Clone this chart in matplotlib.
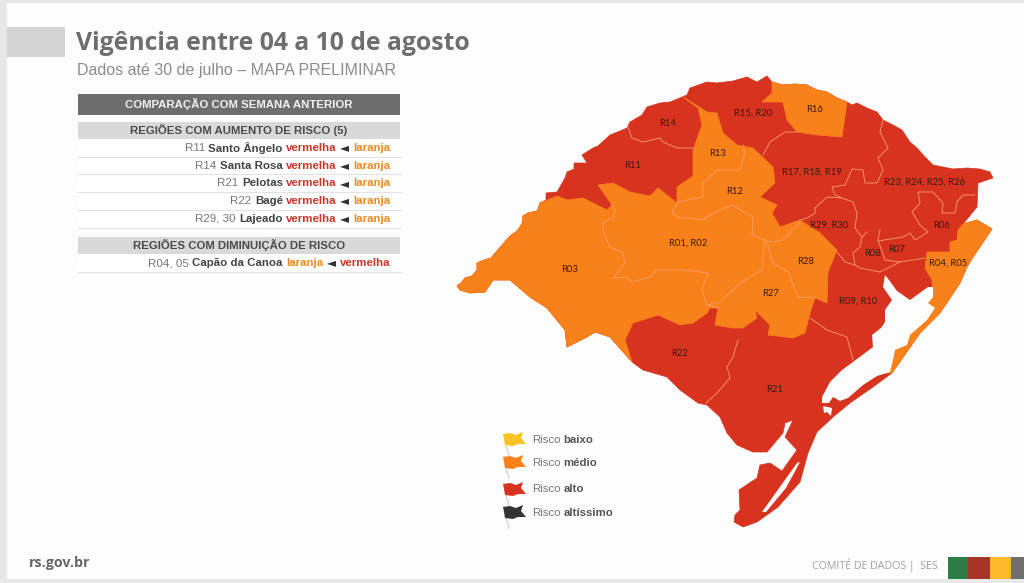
import matplotlib
matplotlib.use("Agg")
import matplotlib.pyplot as plt
from matplotlib.patches import Polygon, Rectangle

RED = "#d8331f"
ORANGE = "#f9811a"
BORDER = "#f6a070"

# outlines, in image pixels
west_coast = [(457, 286), (461, 283), (465, 278), (472, 276), (477, 270), (477, 263), (484, 260), (491, 258),
              (497, 251), (503, 244), (510, 236), (517, 231), (522, 224), (523, 216), (528, 213), (537, 211),
              (538, 209), (540, 203)]
north_coast = [(546, 200), (546, 193), (557, 192), (565, 178), (567, 172), (574, 169), (574, 163), (587, 163),
               (582, 155), (593, 148), (598, 146), (610, 135), (620, 131), (627, 128), (630, 122), (642, 115),
               (647, 107), (660, 103), (670, 102), (682, 97), (687, 95), (690, 88), (707, 82), (717, 83),
               (733, 81), (740, 79), (747, 77), (757, 82), (767, 76), (772, 82), (783, 85), (795, 84), (807, 85),
               (817, 90), (827, 92), (837, 98), (847, 102), (852, 105), (857, 103), (867, 108), (877, 112),
               (883, 120), (893, 125), (902, 130), (910, 142), (917, 148), (925, 157), (933, 165), (943, 167),
               (953, 169), (967, 168), (980, 169), (990, 172), (993, 178), (978, 183), (977, 207), (968, 218),
               (963, 224), (977, 220), (992, 229), (973, 257), (967, 267), (960, 283), (940, 313), (920, 333)]
south_coast = [(892, 373), (873, 387), (850, 403), (833, 417), (817, 432), (808, 453), (800, 482), (778, 507),
               (757, 522), (743, 527), (734, 522), (735, 515), (740, 510), (739, 490), (757, 478), (760, 465),
               (770, 463), (782, 471), (797, 450), (785, 437), (793, 420), (785, 423), (783, 433), (767, 452),
               (753, 452), (737, 445), (727, 433), (720, 417), (707, 405), (698, 403), (680, 390), (667, 377),
               (643, 370)]
sw_coast = [(632, 362), (610, 337), (595, 332), (587, 337), (567, 347), (565, 330), (547, 308), (530, 297),
            (510, 280), (493, 280), (485, 292), (470, 293), (460, 290)]
orange_inland = [(557, 196), (567, 200), (583, 198), (607, 210), (612, 205), (598, 185), (613, 183), (630, 192),
                 (650, 196), (658, 188), (677, 203), (677, 187), (693, 176), (693, 150), (702, 125), (698, 108),
                 (683, 97), (707, 112), (717, 113), (723, 133), (737, 145), (753, 148), (773, 167), (775, 183),
                 (760, 197), (777, 205), (772, 213), (780, 227), (800, 220), (820, 233), (837, 250), (828, 272),
                 (827, 303), (815, 298), (810, 313), (805, 333), (793, 338), (768, 335), (770, 325), (755, 310),
                 (757, 318), (743, 328), (732, 328), (715, 325), (718, 308), (710, 308), (707, 313), (693, 323),
                 (680, 325), (658, 315), (633, 323), (625, 340)]
orange_r16 = [(772, 82), (783, 85), (795, 84), (807, 85), (817, 90), (827, 92), (837, 98), (847, 102), (842, 137),
              (817, 135), (797, 132), (787, 120), (783, 102), (762, 102), (772, 93)]
orange_coast = [(963, 224), (958, 230), (957, 240), (950, 242), (950, 252), (927, 252), (925, 268), (932, 280),
                (933, 297), (925, 300), (890, 345), (885, 373), (892, 373), (920, 333), (940, 313), (960, 283),
                (967, 267), (973, 257), (992, 229), (977, 220)]
lagoa_patos = [(885, 275), (889, 280), (897, 291), (910, 300), (928, 287), (933, 287), (933, 297), (928, 303),
               (935, 308), (927, 320), (910, 335), (907, 345), (895, 350), (893, 360), (890, 372), (877, 376),
               (863, 385), (848, 398), (840, 401), (833, 397), (829, 403), (822, 403), (822, 397), (830, 382),
               (842, 370), (853, 362), (873, 347), (872, 335), (881, 328), (885, 322), (885, 310), (892, 300),
               (883, 287)]
lagoa_sliver = [(800, 462), (797, 463), (782, 484), (762, 512), (766, 512), (786, 488)]
estuary = [(823, 406), (832, 408), (831, 416), (827, 412), (824, 413)]

borders = [
    [(612, 205), (615, 210), (613, 218), (603, 222), (603, 230), (610, 247), (623, 253), (625, 263), (613, 278),
     (627, 277), (632, 282), (650, 277), (657, 270), (683, 270), (708, 273), (702, 290), (707, 305), (718, 308)],
    [(707, 305), (720, 302), (740, 283), (762, 270), (765, 240), (752, 235), (753, 217), (732, 205), (713, 213),
     (703, 220), (690, 218), (680, 218), (672, 213), (677, 203)],
    [(677, 202), (703, 197), (703, 183), (717, 170), (740, 170), (745, 153), (743, 145)],
    [(765, 241), (773, 242), (783, 240), (800, 222)],
    [(767, 243), (773, 263), (788, 272), (798, 297), (815, 298)],
    [(763, 155), (770, 142), (785, 132), (797, 132)],
    [(628, 127), (632, 138), (643, 142), (660, 138), (663, 142), (677, 148), (693, 148)],
    [(738, 340), (733, 357), (727, 367), (730, 378), (717, 393), (706, 403)],
    [(810, 318), (827, 330), (847, 337), (853, 360)],
    [(883, 120), (880, 132), (888, 148), (878, 158), (883, 170), (877, 183), (865, 183), (863, 170), (852, 169),
     (845, 185), (832, 187), (835, 195), (842, 198), (827, 197), (815, 208), (815, 213), (807, 218), (800, 220)],
    [(842, 198), (853, 202), (857, 213), (855, 228), (862, 237), (867, 232)],
    [(862, 237), (860, 247), (853, 253), (855, 265), (860, 268), (880, 272), (900, 262), (925, 258)],
    [(837, 252), (845, 262), (855, 265)],
    [(880, 230), (878, 240), (885, 260), (900, 262)],
    [(878, 241), (903, 237), (910, 233), (915, 240), (928, 232), (920, 225), (912, 212), (920, 203), (918, 192),
     (933, 192), (943, 203), (942, 213), (955, 213), (957, 202), (963, 195), (975, 195)],
]

region_names = ["R14", "R11", "R13", "R12", "R01, R02", "R03", "R22", "R21", "R15, R20", "R16", "R17, R18, R19",
                "R23, R24, R25, R26", "R29, R30", "R06", "R08", "R07", "R04, R05", "R28", "R27", "R09, R10"]
region_x = [668, 633, 718, 735, 688, 570, 680, 775, 753, 815, 812, 925, 829, 942, 873, 897, 948, 806, 771, 858]
region_y = [124, 165, 154, 191, 243, 270, 353, 389, 113, 110, 172, 182, 225, 225, 253, 250, 263, 261, 294, 301]

# table rows
up_codes = ["R11", "R14", "R21", "R22", "R29, 30"]
up_cities = ["Santo Ângelo", "Santa Rosa", "Pelotas", "Bagé", "Lajeado"]

legend_levels = ["baixo", "médio", "alto", "altíssimo"]
legend_colors = ["#f7c325", ORANGE, "#d8331f", "#333333"]
legend_text_y = [440, 463, 489, 513]
legend_flag_y = [432, 455, 482, 505]
flag_shape = [(0, 2), (7, 1), (13, 3), (20, 0), (18, 6), (23, 12), (15, 12), (10, 14), (2, 13), (1, 7)]

footer_colors = ["#2e7d46", "#a83428", "#fbb92a", "#6f6f6f"]
footer_edges = [948, 968, 990, 1011, 1024]

fig = plt.figure(figsize=(10.24, 5.83), dpi=100, facecolor="#fdfdfd")
ax = fig.add_axes([0, 0, 1, 1])
ax.set_xlim(0, 1024)
ax.set_ylim(583, 0)
ax.axis("off")


def box(x0, y0, x1, y1, color, **kw):
    ax.add_patch(Rectangle((x0, y0), x1 - x0, y1 - y0, facecolor=color, edgecolor="none", **kw))


# page furniture
box(0, 0, 1024, 3, "#e6e6e6")
box(0, 0, 7, 583, "#e8e8e8")
box(0, 579, 1024, 583, "#e8e8e8")
box(7, 27, 65, 57, "#d4d4d4")

ax.text(76, 43, "Vigência entre 04 a 10 de agosto", fontsize=17.8, fontweight="bold", family="Open Sans",
        color="#6e6e6e", va="center")
ax.text(77, 71, "Dados até 30 de julho – MAPA PRELIMINAR", fontsize=11.55, family="Liberation Sans",
        color="#8c8c8c", va="center")

# comparison table
box(78, 94, 400, 115, "#6d6d6d")
ax.text(239, 104.5, "COMPARAÇÃO COM SEMANA ANTERIOR", fontsize=8.2, fontweight="bold", family="Liberation Sans",
        color="#f2f2f2", ha="center", va="center")


def row(y, parts):
    # lay the pieces out from the right edge of the row
    x = 390
    rend = fig.canvas.get_renderer()
    for txt, col, weight, fam, size in reversed(parts):
        t = ax.text(x, y, txt, fontsize=size, fontweight=weight, family=fam, color=col, ha="right", va="center")
        x -= t.get_window_extent(rend).width + 3.5


def table_row(y0, parts):
    box(78, y0, 400, y0 + 17.7, "#ffffff")
    ax.plot([78, 400], [y0 + 17.7, y0 + 17.7], color="#e3e3e3", lw=0.8)
    row(y0 + 9, parts)


def change_parts(code, city, first, first_col, second, second_col):
    return [(code, "#777777", "normal", "Liberation Sans", 8.25), (city, "#444444", "bold", "Liberation Sans", 8.25),
            (first, first_col, "bold", "Liberation Sans", 8.25), ("◄", "#333333", "normal", "DejaVu Sans", 8.5),
            (second, second_col, "bold", "Liberation Sans", 8.25)]


fig.canvas.draw()
box(78, 122, 400, 139, "#d9d9d9")
ax.text(239, 130.5, "REGIÕES COM AUMENTO DE RISCO (5)", fontsize=8.2, fontweight="bold", family="Liberation Sans",
        color="#4a4a4a", ha="center", va="center")
for i, (code, city) in enumerate(zip(up_codes, up_cities)):
    table_row(139 + i * 17.7, change_parts(code, city, "vermelha", "#c8382a", "laranja", "#ee8a25"))

box(78, 237, 400, 254, "#d9d9d9")
ax.text(239, 245.5, "REGIÕES COM DIMINUIÇÃO DE RISCO", fontsize=8.2, fontweight="bold", family="Liberation Sans",
        color="#4a4a4a", ha="center", va="center")
table_row(254, change_parts("R04, 05", "Capão da Canoa", "laranja", "#ee8a25", "vermelha", "#c8382a"))

# map
state = west_coast + north_coast + south_coast + sw_coast
orange_center = west_coast + orange_inland + sw_coast
ax.add_patch(Polygon(state, facecolor=RED, edgecolor=RED, lw=0.5, zorder=2))
for shape in (orange_center, orange_r16, orange_coast):
    ax.add_patch(Polygon(shape, facecolor=ORANGE, edgecolor=ORANGE, lw=0.5, zorder=3))
for shape in (lagoa_patos, lagoa_sliver, estuary):
    ax.add_patch(Polygon(shape, facecolor="#fdfdfd", edgecolor="none", zorder=4))
for line in borders:
    xs, ys = zip(*line)
    ax.plot(xs, ys, color=BORDER, lw=0.6, zorder=5)
for name, x, y in zip(region_names, region_x, region_y):
    ax.text(x, y, name, fontsize=6.8, family="Lato", color="#3a1a10", ha="center", va="center", zorder=6)

# legend flags
for level, col, ty, fy in zip(legend_levels, legend_colors, legend_text_y, legend_flag_y):
    ax.plot([506, 509], [fy + 13, fy + 23], color="#d5d5d5", lw=1)
    ax.add_patch(Polygon([(503 + dx, fy + dy) for dx, dy in flag_shape], facecolor=col, edgecolor="none", zorder=3))
    t = ax.text(532, ty, "Risco", fontsize=8.2, family="Liberation Sans", color="#777777", va="center")
    w = t.get_window_extent(fig.canvas.get_renderer()).width
    ax.text(532 + w + 3, ty, level, fontsize=8.2, fontweight="bold", family="Liberation Sans", color="#555555",
            va="center")

# footer
ax.text(29, 563, "rs.gov.br", fontsize=10.3, fontweight="bold", family="Open Sans", color="#666666", va="center")
ax.text(938, 565, "COMITÉ DE DADOS |  SES", fontsize=7.7, family="Open Sans", color="#a0a0a0", ha="right", va="center")
for col, x0, x1 in zip(footer_colors, footer_edges[:-1], footer_edges[1:]):
    box(x0, 557, x1, 579, col)

fig.savefig("out.png", dpi=100, facecolor=fig.get_facecolor())
